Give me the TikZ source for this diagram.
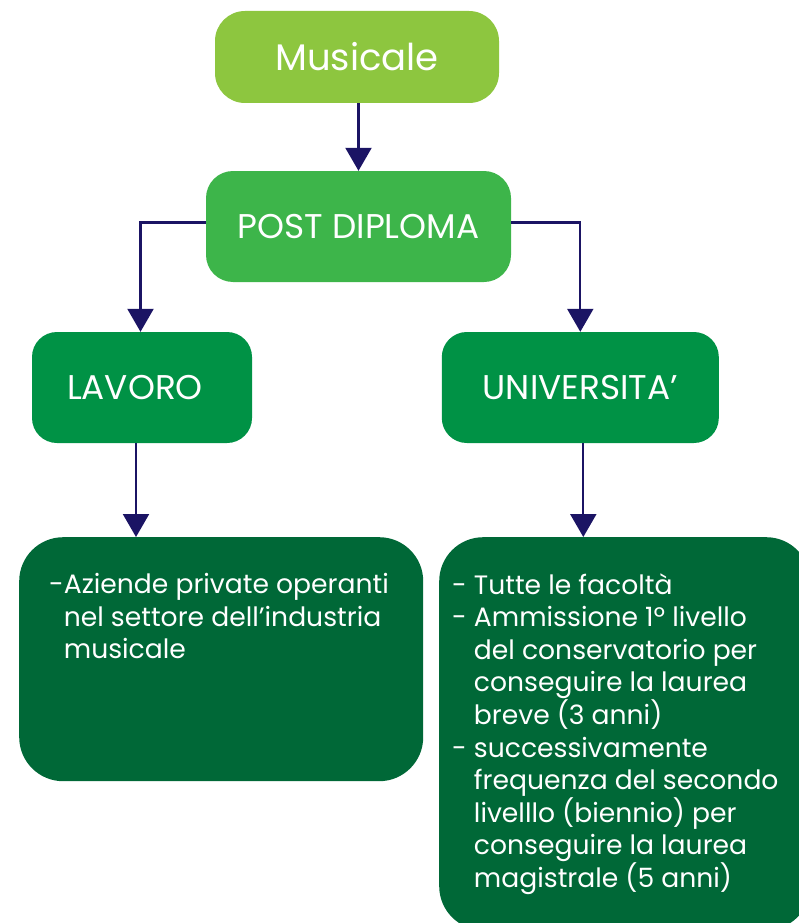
\documentclass[tikz,border=0pt]{standalone}
\usepackage{fontspec}
\setmainfont{Poppins}
\usetikzlibrary{arrows.meta}

\definecolor{musgreen}{RGB}{141,198,63}
\definecolor{postgreen}{RGB}{61,181,74}
\definecolor{midgreen}{RGB}{0,146,69}
\definecolor{deepgreen}{RGB}{0,104,55}
\definecolor{arrowblue}{RGB}{27,20,100}

\newlength\dashw
\newcommand{\ditem}[2]{\settowidth\dashw{#1}\par\hangindent=\dashw\hangafter=1\noindent#1#2\par}

\begin{document}
\begin{tikzpicture}[x=1pt, y=-1pt, every node/.style={text=white, inner sep=0pt},
musbox/.style={fill=musgreen, rounded corners=30pt, minimum width=284pt, minimum height=92pt, font=\fontsize{37}{40}\selectfont},
postbox/.style={fill=postgreen, rounded corners=27pt, minimum width=305pt, minimum height=111pt, font=\fontsize{34.3}{38}\selectfont},
choicebox/.style={fill=midgreen, rounded corners=25pt, minimum height=111pt, font=\fontsize{34.3}{38}\selectfont},
infobox/.style={fill=deepgreen, rounded corners=44pt, anchor=north west, inner ysep=36pt, font=\fontsize{26.6}{32.6}\selectfont},
arr/.style={draw=arrowblue, line width=2.2pt, -{Triangle[width=26pt, length=23pt]}}]
\path[use as bounding box, clip] (0,0) rectangle (799,923);
\node[musbox] (mus) at (357,57) {Musicale};
\node[postbox] (post) at (358.5,226.5) {POST DIPLOMA};
\node[choicebox, minimum width=220pt] (lav) at (142,387.5) {\hspace*{-14pt}LAVORO};
\node[choicebox, minimum width=277pt] (uni) at (580.3,387.5) {UNIVERSITA’};
\node[infobox, inner xsep=30pt] (lavbox) at (19,537) {\parbox[c][172pt][t]{344pt}{\raggedright
  \ditem{-}{Aziende private operanti\newline nel settore dell’industria\newline musicale}}};
\node[infobox, inner xsep=13pt] (unibox) at (439,537) {\parbox[c][321pt][t]{345pt}{\raggedright
  \ditem{- }{Tutte le facoltà}
  \ditem{- }{Ammissione 1º livello\newline del conservatorio per\newline conseguire la laurea\newline breve (3 anni)}
  \ditem{- }{successivamente\newline frequenza del secondo\newline livelllo (biennio) per\newline conseguire la laurea\newline magistrale (5 anni)}}};
\draw[arr] ([xshift=1.5pt]mus.south) -- ([xshift=1.5pt]mus.south |- post.north);
\draw[arr] ([yshift=4pt]post.west) -| ([xshift=-1.5pt]lav.north);
\draw[arr] ([yshift=4pt]post.east) -| (uni.north);
\draw[arr] ([xshift=-6pt]lav.south) -- ([xshift=-6pt]lav.south |- lavbox.north);
\draw[arr] ([xshift=3pt]uni.south) -- ([xshift=3pt]uni.south |- unibox.north);
\end{tikzpicture}
\end{document}
